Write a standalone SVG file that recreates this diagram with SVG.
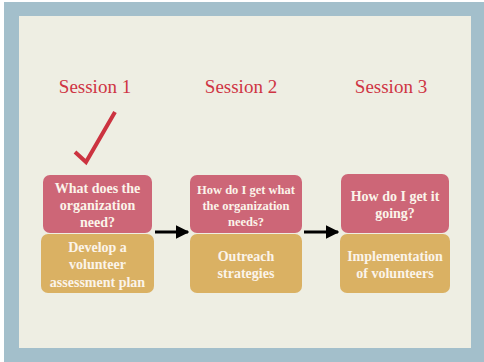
<svg xmlns="http://www.w3.org/2000/svg" width="484" height="362" viewBox="0 0 484 362">
<style>
.session{font-family:"Liberation Serif",serif;font-size:19px;fill:#cf3443;text-anchor:middle}
.lbl{font-family:"Liberation Serif",serif;font-weight:bold;font-size:14px;fill:#fbf4ea;text-anchor:middle}
.sm{font-size:12.5px}
.pink{fill:#cd6677}
.gold{fill:#dab163}
.conn{stroke:#000;stroke-width:3;fill:none}
</style>
<defs>
<marker id="ah" viewBox="0 0 10 10" refX="9" refY="5" markerWidth="4.5" markerHeight="4.5" orient="auto" markerUnits="strokeWidth">
<path d="M0,0 L10,5 L0,10 Z" fill="#000"/>
</marker>
</defs>
<rect x="0" y="0" width="484" height="362" fill="#ffffff"/>
<rect x="4" y="2" width="480" height="360" fill="#a3bfcb"/>
<rect x="19" y="16" width="452" height="332" fill="#eeeee3"/>
<text class="session" x="95" y="92.5">Session 1</text>
<text class="session" x="241" y="92.5">Session 2</text>
<text class="session" x="391" y="92.5">Session 3</text>
<path d="M75,152 L86,162 L115,112" stroke="#cc3340" stroke-width="4" fill="none"/>
<g id="connectors">
<line class="conn" x1="155" y1="232" x2="188" y2="232" marker-end="url(#ah)"/>
<line class="conn" x1="304" y1="232" x2="338" y2="232" marker-end="url(#ah)"/>
</g>
<g id="q1">
<rect class="pink" x="43" y="175" width="109" height="58" rx="7"/>
<text class="lbl" x="97.5" y="193">What does the</text>
<text class="lbl" x="97.5" y="210">organization</text>
<text class="lbl" x="97.5" y="227">need?</text>
</g>
<g id="a1">
<rect class="gold" x="41" y="234" width="113" height="59" rx="7"/>
<text class="lbl" x="97.5" y="252">Develop a</text>
<text class="lbl" x="97.5" y="269">volunteer</text>
<text class="lbl" x="97.5" y="286.5">assessment plan</text>
</g>
<g id="q2">
<rect class="pink" x="190" y="175" width="112" height="58" rx="7"/>
<text class="lbl sm" x="246" y="193.5">How do I get what</text>
<text class="lbl sm" x="246" y="209.5">the organization</text>
<text class="lbl sm" x="246" y="225.5">needs?</text>
</g>
<g id="a2">
<rect class="gold" x="190" y="234" width="112" height="59" rx="7"/>
<text class="lbl" x="246" y="261">Outreach</text>
<text class="lbl" x="246" y="278">strategies</text>
</g>
<g id="q3">
<rect class="pink" x="341" y="174" width="108" height="59" rx="7"/>
<text class="lbl" x="395" y="201">How do I get it</text>
<text class="lbl" x="395" y="218">going?</text>
</g>
<g id="a3">
<rect class="gold" x="340" y="234" width="110" height="59" rx="7"/>
<text class="lbl" x="395" y="261">Implementation</text>
<text class="lbl" x="395" y="278">of volunteers</text>
</g>
</svg>
